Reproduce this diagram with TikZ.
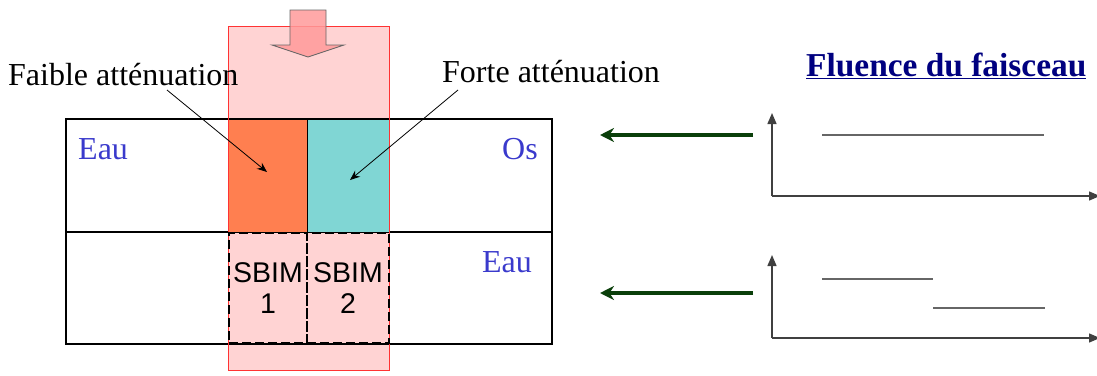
\documentclass[tikz,border=0pt]{standalone}
\usepackage{fontspec}
\setmainfont{Liberation Serif}
\newfontfamily\arialfont{Liberation Sans}
\usetikzlibrary{arrows.meta}
\definecolor{pinkfill}{HTML}{FFD3D3}
\definecolor{coralc}{HTML}{FF7F50}
\definecolor{tealc}{HTML}{80D6D4}
\definecolor{arrowpink}{HTML}{FF9A9A}
\definecolor{labelblue}{HTML}{3A3ACC}
\definecolor{navyc}{HTML}{000080}
\definecolor{darkgreen}{HTML}{0A3F0A}
\tikzset{
  lbl/.style={font=\fontsize{32}{34}\selectfont, inner sep=0pt},
  med/.style={font=\fontsize{32}{34}\selectfont, text=labelblue, inner sep=0pt},
  sbim/.style={draw=black, line width=2.2pt, dash pattern=on 9pt off 4pt, font=\arialfont\fontsize{28.5}{31}\selectfont, align=center, inner sep=0pt},
  ann/.style={-{Stealth[length=10pt,width=8pt]}, line width=0.8pt},
  greenarr/.style={-{Stealth[length=14pt,width=14pt]}, draw=darkgreen, line width=3.5pt},
  axis/.style={-{Triangle[length=11pt,width=9pt]}, line width=1.4pt, draw=black!75},
  fl/.style={line width=1.2pt, draw=black!60}
}
\begin{document}
\begin{tikzpicture}[x=1pt,y=-1pt]
\useasboundingbox (0,0) rectangle (1097,375);
% beam
\fill[pinkfill] (228,26) rectangle (389,370);
% phantom
\draw[line width=1.2pt] (66,119) rectangle (552,344);
\draw[line width=1.2pt] (66,232) -- (552,232);
% inserts
\fill[coralc] (229,120) rectangle (307,231.5);
\fill[tealc] (307,120) rectangle (389,231.5);
\draw[line width=1pt] (307,119) -- (307,232);
% beam border
\draw[red!80, line width=0.8pt] (228,26) rectangle (389,370);
% block arrow
\coordinate (ba) at (308,57);
\draw[draw=black!60, fill=arrowpink, fill opacity=0.85, line width=0.8pt]
  (290,10) -- (326,10) -- (326,45) -- (344,45) -- (ba) -- (272,45) -- (290,45) -- cycle;
% SBIM boxes
\node[sbim, minimum width=78pt, minimum height=110pt] (s1) at (268,288) {SBIM\\1};
\node[sbim, minimum width=82pt, minimum height=110pt] (s2) at (348,288) {SBIM\\2};
% labels
\node[lbl, anchor=west] (fa) at (8,75) {Faible atténuation};
\node[lbl, anchor=west] (fo) at (442,72) {Forte atténuation};
\node[med, anchor=west] (e1) at (78,149) {Eau};
\node[med, anchor=east] (os) at (538,149) {Os};
\node[med, anchor=east] (e2) at (532,262) {Eau};
\coordinate (fas) at (167,90);
\coordinate (fae) at (267,172);
\coordinate (fos) at (458,90);
\coordinate (foe) at (350,180);
\draw[ann] (fas) -- (fae);
\draw[ann] (fos) -- (foe);
% title
\node[font=\bfseries\fontsize{33.4}{35}\selectfont, text=navyc, inner sep=0pt, anchor=west] (ti) at (806,66) {\underline{Fluence du faisceau}};
% green arrows
\coordinate (g1s) at (753,135); \coordinate (g1e) at (600,135);
\coordinate (g2s) at (753,293); \coordinate (g2e) at (600,293);
\draw[greenarr] (g1s) -- (g1e);
\draw[greenarr] (g2s) -- (g2e);
% graph 1
\coordinate (o1) at (772,196);
\coordinate (y1) at (772,113);
\coordinate (x1) at (1100,196);
\draw[axis] (o1) -- (y1);
\draw[axis] (o1) -- (x1);
\coordinate (l1a) at (822,135); \coordinate (l1b) at (1044,135);
\draw[fl] (l1a) -- (l1b);
% graph 2
\coordinate (o2) at (772,338);
\coordinate (y2) at (772,255);
\coordinate (x2) at (1100,338);
\draw[axis] (o2) -- (y2);
\draw[axis] (o2) -- (x2);
\coordinate (l2a) at (822,279); \coordinate (l2b) at (933,279);
\coordinate (l3a) at (933,308); \coordinate (l3b) at (1045,308);
\draw[fl] (l2a) -- (l2b);
\draw[fl] (l3a) -- (l3b);
\end{tikzpicture}
\end{document}
